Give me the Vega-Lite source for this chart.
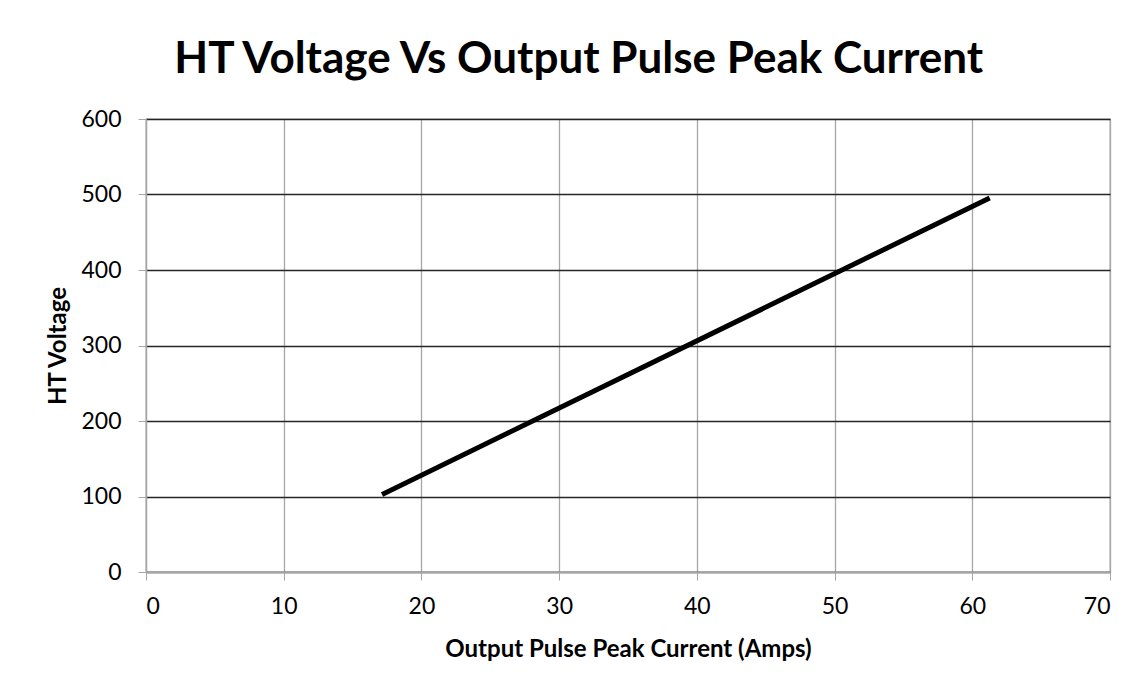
{
  "$schema": "https://vega.github.io/schema/vega-lite/v6.json",
  "autosize": "none",
  "width": 964,
  "height": 453,
  "padding": {"left": 146, "top": 119, "right": 36, "bottom": 117},
  "background": "white",
  "title": {
    "text": "HT Voltage Vs Output Pulse Peak Current",
    "font": "Lato",
    "fontSize": 44,
    "fontWeight": "bold",
    "color": "#000000",
    "anchor": "middle",
    "frame": "bounds",
    "offset": 26
  },
  "data": {
    "values": [
      {"current": 17.3, "voltage": 104},
      {"current": 61.1, "voltage": 494}
    ]
  },
  "mark": {"type": "line", "color": "#000000", "strokeWidth": 5, "strokeCap": "square"},
  "encoding": {
    "x": {
      "field": "current",
      "type": "quantitative",
      "scale": {"domain": [0, 70], "nice": false, "zero": true},
      "axis": {
        "title": "Output Pulse Peak Current (Amps)",
        "values": [0, 10, 20, 30, 40, 50, 60, 70],
        "grid": true,
        "gridColor": "#a6a6a6",
        "gridWidth": 1.3,
        "gridOpacity": 1,
        "domainColor": "#a6a6a6",
        "domainWidth": 1.3,
        "tickColor": "#a6a6a6",
        "tickSize": 8,
        "labelFont": "Lato",
        "labelFontSize": 23,
        "labelColor": "#000000",
        "labelPadding": 15,
        "titleFont": "Lato",
        "titleFontSize": 24,
        "titleFontWeight": "bold",
        "titleColor": "#000000",
        "titlePadding": 19
      }
    },
    "y": {
      "field": "voltage",
      "type": "quantitative",
      "scale": {"domain": [0, 600], "nice": false},
      "axis": {
        "title": "HT Voltage",
        "values": [0, 100, 200, 300, 400, 500, 600],
        "grid": true,
        "gridColor": "#262626",
        "gridWidth": 1.3,
        "gridOpacity": 1,
        "domainColor": "#a6a6a6",
        "domainWidth": 1.3,
        "tickColor": "#a6a6a6",
        "tickSize": 8,
        "labelFont": "Lato",
        "labelFontSize": 23,
        "labelColor": "#000000",
        "labelPadding": 17,
        "titleFont": "Lato",
        "titleFontSize": 24,
        "titleFontWeight": "bold",
        "titleColor": "#000000",
        "titlePadding": 10
      }
    }
  },
  "config": {
    "view": {"stroke": "#a6a6a6", "strokeWidth": 1.3}
  }
}
